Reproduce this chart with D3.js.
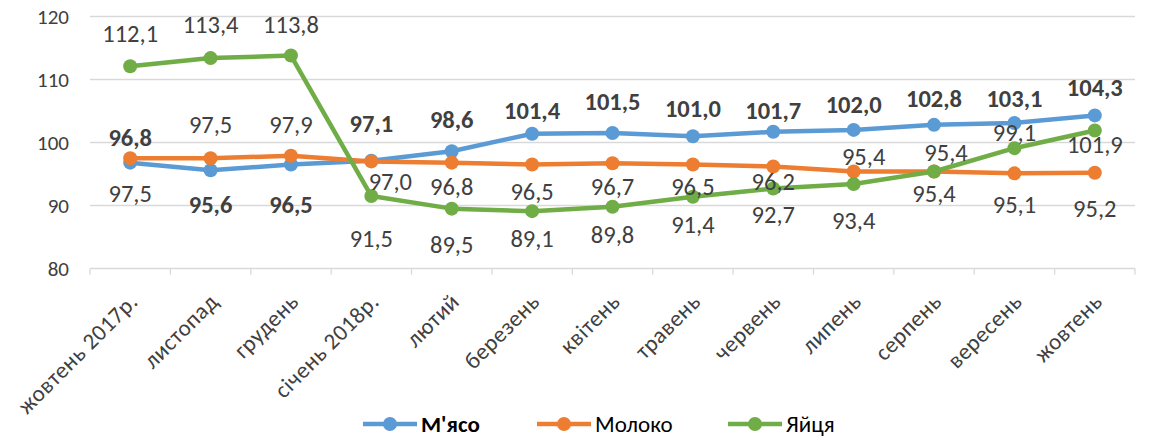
<!DOCTYPE html>
<meta charset="utf-8">
<script src="https://d3js.org/d3.v7.min.js"></script>
<style>
body { margin: 0; background: #fff; }
text { font-family: Carlito, Lato, "Open Sans", sans-serif; fill: #404040; }
.grid line { stroke: #d9d9d9; stroke-width: 1.3px; }
.lbl { font-size: 24.5px; }
.lbl-bold { font-weight: bold; }
</style>
<body>
<div id="chart"></div>
<script>
var months = ["жовтень 2017р.", "листопад", "грудень", "січень 2018р.", "лютий", "березень",
  "квітень", "травень", "червень", "липень", "серпень", "вересень", "жовтень"];
var meat = [96.8, 95.6, 96.5, 97.1, 98.6, 101.4, 101.5, 101.0, 101.7, 102.0, 102.8, 103.1, 104.3];
var milk = [97.5, 97.5, 97.9, 97.0, 96.8, 96.5, 96.7, 96.5, 96.2, 95.4, 95.4, 95.1, 95.2];
var eggs = [112.1, 113.4, 113.8, 91.5, 89.5, 89.1, 89.8, 91.4, 92.7, 93.4, 95.4, 99.1, 101.9];
var yTicks = [80, 90, 100, 110, 120];

// label offsets from the point (px), as the labels were moved by hand in the original
var meatDy = [-17, 43, 48, -29, -23, -15, -23, -19, -13, -17, -18, -16, -19];
var milkDy = [44, -25, -23, 29, 32, 35, 32, 30, 24, -6, -10, 40, 44];
var eggsDy = [-24, -25, -23, 51, 44, 36, 36, 36, 35, 45, 31, -7, 22];
var milkDx = [0, 0, 0, 19, 0, 0, 0, 0, 0, 10, 12, 0, 0];

var series = [
  { name: "М'ясо", values: meat, color: "#5b9bd5", bold: true, dy: meatDy },
  { name: "Молоко", values: milk, color: "#ed7d31", bold: false, dy: milkDy, dx: milkDx },
  { name: "Яйця", values: eggs, color: "#70ad47", bold: false, dy: eggsDy }
];

var width = 1150, height = 439;
var svg = d3.select("#chart").append("svg")
  .attr("width", width)
  .attr("height", height);

var x = d3.scaleBand().domain(months).range([90, 1135]);
var y = d3.scaleLinear().domain([80, 120]).range([268.5, 16.5]);
function cx(i) { return x(months[i]) + x.bandwidth() / 2; }

// gridlines
svg.append("g").attr("class", "grid")
  .selectAll("line")
  .data(yTicks)
  .enter().append("line")
  .attr("x1", 90).attr("x2", 1135)
  .attr("y1", function(d) { return y(d); })
  .attr("y2", function(d) { return y(d); });

// y labels
svg.append("g")
  .selectAll("text")
  .data(yTicks)
  .enter().append("text")
  .attr("x", 69)
  .attr("y", function(d) { return y(d); })
  .attr("dy", "0.35em")
  .attr("text-anchor", "end")
  .attr("font-size", 21)
  .text(function(d) { return d; });

// x tick marks at band edges
var edges = months.map(function(m) { return x(m); }).concat([x.range()[1]]);
svg.append("g").attr("class", "grid")
  .selectAll("line")
  .data(edges)
  .enter().append("line")
  .attr("x1", function(d) { return d; })
  .attr("x2", function(d) { return d; })
  .attr("y1", y(80))
  .attr("y2", y(80) + 6);

// x labels
svg.append("g")
  .selectAll("text")
  .data(months)
  .enter().append("text")
  .attr("text-anchor", "end")
  .attr("font-size", 23)
  .style("letter-spacing", "0.5px")
  .attr("transform", function(d, i) {
    return "translate(" + (cx(i) + 9) + "," + 303 + ") rotate(-45)";
  })
  .text(function(d) { return d; });

var line = d3.line()
  .x(function(d, i) { return cx(i); })
  .y(function(d) { return y(d); });

series.forEach(function(s) {
  svg.append("path")
    .datum(s.values)
    .attr("fill", "none")
    .attr("stroke", s.color)
    .attr("stroke-width", 4.5)
    .attr("stroke-linejoin", "round")
    .attr("d", line);

  svg.append("g")
    .selectAll("circle")
    .data(s.values)
    .enter().append("circle")
    .attr("cx", function(d, i) { return cx(i); })
    .attr("cy", function(d) { return y(d); })
    .attr("r", 7)
    .attr("fill", s.color);
});

// data labels
series.forEach(function(s) {
  svg.append("g")
    .selectAll("text")
    .data(s.values)
    .enter().append("text")
    .attr("class", s.bold ? "lbl lbl-bold" : "lbl")
    .attr("text-anchor", "middle")
    .attr("x", function(d, i) { return cx(i) + (s.dx ? s.dx[i] : 0); })
    .attr("y", function(d, i) { return y(d) + s.dy[i]; })
    .text(function(d) { return d.toFixed(1).replace(".", ","); });
});

// legend
var legendX = [363, 537, 728];
var legend = svg.append("g")
  .selectAll("g")
  .data(series)
  .enter().append("g")
  .attr("transform", function(d, i) { return "translate(" + legendX[i] + ",424)"; });

legend.append("line")
  .attr("x1", 0).attr("x2", 54)
  .attr("stroke", function(d) { return d.color; })
  .attr("stroke-width", 4.5);

legend.append("circle")
  .attr("cx", 27)
  .attr("r", 7)
  .attr("fill", function(d) { return d.color; });

legend.append("text")
  .attr("x", 58)
  .attr("dy", "0.35em")
  .attr("font-size", 23)
  .attr("font-weight", function(d) { return d.bold ? "bold" : "normal"; })
  .style("fill", "#000")
  .text(function(d) { return d.name; });
</script>
</body>
